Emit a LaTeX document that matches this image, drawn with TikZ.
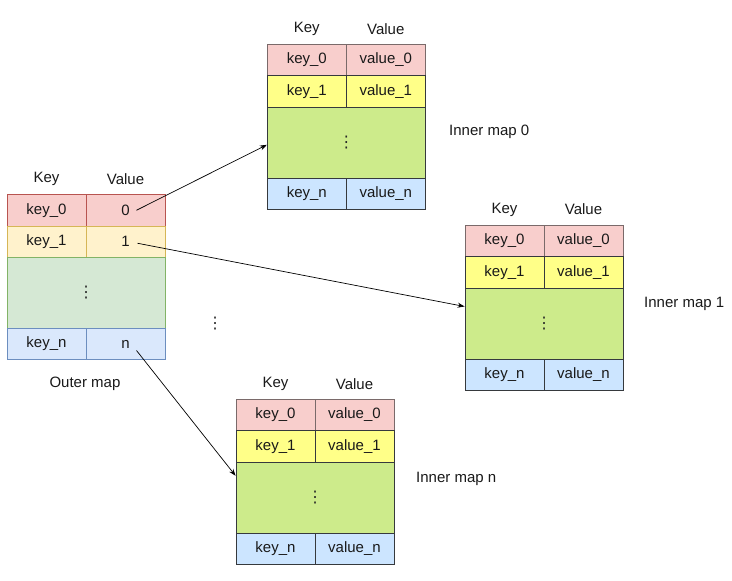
\documentclass[tikz,border=0pt]{standalone}
\usepackage{fontspec}
\setmainfont{Liberation Sans}
\newfontfamily\dotsfont{DejaVu Sans}
\usetikzlibrary{arrows.meta}
\definecolor{oRfill}{HTML}{F8CECC}\definecolor{oRline}{HTML}{B85450}
\definecolor{oYfill}{HTML}{FFF2CC}\definecolor{oYline}{HTML}{D6B656}
\definecolor{oGfill}{HTML}{D5E8D4}\definecolor{oGline}{HTML}{82B366}
\definecolor{oBfill}{HTML}{DAE8FC}\definecolor{oBline}{HTML}{6C8EBF}
\definecolor{iRfill}{HTML}{F8CECC}\definecolor{iRline}{HTML}{7A6A6A}
\definecolor{iYfill}{HTML}{FFFF88}\definecolor{iYline}{HTML}{36393D}
\definecolor{iGfill}{HTML}{CDEB8B}\definecolor{iGline}{HTML}{36393D}
\definecolor{iBfill}{HTML}{CCE5FF}\definecolor{iBline}{HTML}{36393D}
\tikzset{
  txt/.style={font=\fontsize{15}{18}\selectfont, text=black!90},
  dotstxt/.style={font=\dotsfont\fontsize{16}{18}\selectfont, text=black!85},
  cellbox/.style={draw, line width=0.8pt, minimum width=79pt, minimum height=31.5pt, inner sep=0pt, txt},
  widebox/.style={draw, line width=0.8pt, minimum width=158pt, minimum height=71pt, inner sep=0pt, dotstxt},
  lastbox/.style={cellbox, minimum height=31pt},
  oR/.style={fill=oRfill, draw=oRline}, oY/.style={fill=oYfill, draw=oYline},
  oG/.style={fill=oGfill, draw=oGline}, oB/.style={fill=oBfill, draw=oBline},
  iR/.style={fill=iRfill, draw=iRline}, iY/.style={fill=iYfill, draw=iYline},
  iG/.style={fill=iGfill, draw=iGline}, iB/.style={fill=iBfill, draw=iBline},
  headtxt/.style={txt, inner sep=0pt},
  lbl/.style={txt, inner sep=0pt},
  link/.style={line width=0.7pt, -{Stealth[length=7pt,width=5pt]}},
}
\newcommand{\onemap}[7]{%
  \begin{scope}[shift={(#2,#3)}]
    \node[cellbox,#4R] (#1k0) at (39.5,15.75) {key\_0};
    \node[cellbox,#4R] (#1v0) at (118.5,15.75) {#5};
    \node[cellbox,#4Y] (#1k1) at (39.5,47.25) {key\_1};
    \node[cellbox,#4Y] (#1v1) at (118.5,47.25) {#6};
    \node[widebox,#4G] (#1mid) at (79,98.5) {⋮};
    \node[lastbox,#4B] (#1kn) at (39.5,149.5) {key\_n};
    \node[lastbox,#4B] (#1vn) at (118.5,149.5) {#7};
    \node[headtxt] (#1hk) at (39.5,-15.5) {Key};
    \node[headtxt] (#1hv) at (118.5,-15.5) {Value};
  \end{scope}}
\begin{document}
\begin{tikzpicture}[x=1pt,y=-1pt]
  \useasboundingbox (0,0) rectangle (732,581);
  \onemap{o}{7}{194.5}{o}{0}{1}{n}
  \onemap{a}{267.3}{44.3}{i}{value\_0}{value\_1}{value\_n}
  \onemap{b}{465}{225}{i}{value\_0}{value\_1}{value\_n}
  \onemap{c}{236}{399.3}{i}{value\_0}{value\_1}{value\_n}
  \node[lbl] (outerlbl) at (85,384) {Outer map};
  \node[lbl, anchor=west] (alabel) at (449,132) {Inner map 0};
  \node[lbl, anchor=west] (blabel) at (644,304) {Inner map 1};
  \node[lbl, anchor=west] (clabel) at (416,479) {Inner map n};
  \node[dotstxt, inner sep=0pt] (middots) at (215,324) {⋮};
  \draw[link] ([xshift=11pt]ov0.center) -- ([yshift=-2pt]amid.west);
  \draw[link] ([xshift=12pt,yshift=-1.5pt]ov1.center) -- ([yshift=17pt]bmid.west);
  \draw[link] ([xshift=11pt,yshift=-6.5pt]ovn.center) -- ([yshift=22pt]cmid.west);
\end{tikzpicture}
\end{document}
